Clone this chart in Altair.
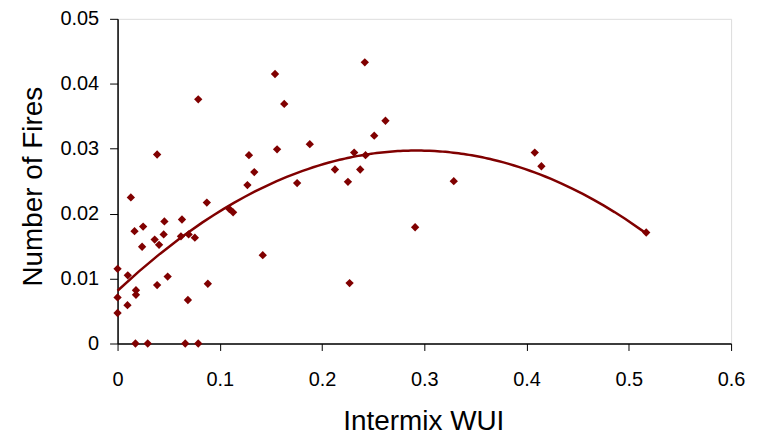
import altair as alt
import pandas as pd

wui = [0.0387, 0.0789, 0.1285, 0.154, 0.163, 0.156, 0.188, 0.1337, 0.013, 0.127,
       0.1756, 0.0873, 0.1094, 0.113, 0.0166, 0.025, 0.0458, 0.063, 0.0451, 0.0363,
       0.0406, 0.024, 0.062, 0.0695, 0.0756, 0.0, 0.010, 0.049, 0.0387, 0.0883,
       0.018, 0.018, 0.0, 0.0097, 0.0688, 0.0, 0.142, 0.0175, 0.0295, 0.0662,
       0.0789, 0.2418, 0.262, 0.251, 0.2314, 0.2425, 0.2126, 0.2373, 0.2253, 0.3288,
       0.291, 0.2269, 0.408, 0.4145, 0.517]
fires = [0.0291, 0.0376, 0.0290, 0.0415, 0.0369, 0.0299, 0.0307, 0.0264, 0.0225, 0.0244,
         0.0247, 0.0217, 0.0207, 0.0202, 0.0173, 0.0180, 0.0188, 0.0191, 0.0168, 0.0160,
         0.0152, 0.0149, 0.0165, 0.0168, 0.0163, 0.0115, 0.0105, 0.0103, 0.0090, 0.0092,
         0.0082, 0.0075, 0.0071, 0.0059, 0.0067, 0.0047, 0.0136, 0.0, 0.0, 0.0,
         0.0, 0.0433, 0.0343, 0.0320, 0.0294, 0.0290, 0.0268, 0.0268, 0.0249, 0.0250,
         0.0179, 0.0093, 0.0294, 0.0273, 0.0171]

x_ticks = [0, 0.1, 0.2, 0.3, 0.4, 0.5, 0.6]
y_ticks = [0, 0.01, 0.02, 0.03, 0.04, 0.05]

df = pd.DataFrame({"wui": wui, "fires": fires})
FONT = "Liberation Sans"
RED = "#800000"

x_enc = alt.X(
    "wui:Q",
    scale=alt.Scale(domain=[0, 0.6], nice=False, zero=True),
    axis=alt.Axis(
        values=x_ticks, format="~g", title="Intermix WUI", grid=False,
        domainColor="black", tickColor="black", tickSize=7, domainWidth=1.5,
        labelFontSize=20, labelFont=FONT, labelColor="black",
        labelBaseline="alphabetic", labelPadding=35, labelFlush=False, labelOverlap=False,
        titleFontSize=28, titleFont=FONT, titleFontWeight="normal", titleColor="black",
        titleX=307, titleY=86, titleBaseline="alphabetic", titleAlign="center",
    ),
)
y_enc = alt.Y(
    "fires:Q",
    scale=alt.Scale(domain=[0, 0.05], nice=False, zero=True),
    axis=alt.Axis(
        values=y_ticks, format="~g", title="Number of Fires", grid=False,
        domainColor="black", tickColor="black", tickSize=8, domainWidth=1.5,
        labelFontSize=20, labelFont=FONT, labelColor="black",
        labelPadding=11, labelFlush=False, labelOverlap=False, labelBaseline="middle",
        titleFontSize=28, titleFont=FONT, titleFontWeight="normal", titleColor="black",
        titleAngle=-90, titleX=-76, titleY=168, titleBaseline="alphabetic", titleAlign="center",
    ),
)

points = alt.Chart(df).mark_point(
    shape="diamond", filled=True, size=70, color=RED, opacity=1
).encode(x=x_enc, y=y_enc)

trend = alt.Chart(df).transform_regression(
    "wui", "fires", method="poly", order=2
).mark_line(color=RED, strokeWidth=2.5).encode(x=x_enc, y=y_enc)

chart = alt.layer(trend, points).properties(
    width=616, height=326,
    autosize=alt.AutoSizeParams(type="none"),
    padding={"left": 110, "top": 10, "right": 22, "bottom": 91},
).configure_view(stroke="#8c8c8c", strokeWidth=1.5).configure(font=FONT)

chart.save("out.html", embed_options={"renderer": "svg", "actions": False})
